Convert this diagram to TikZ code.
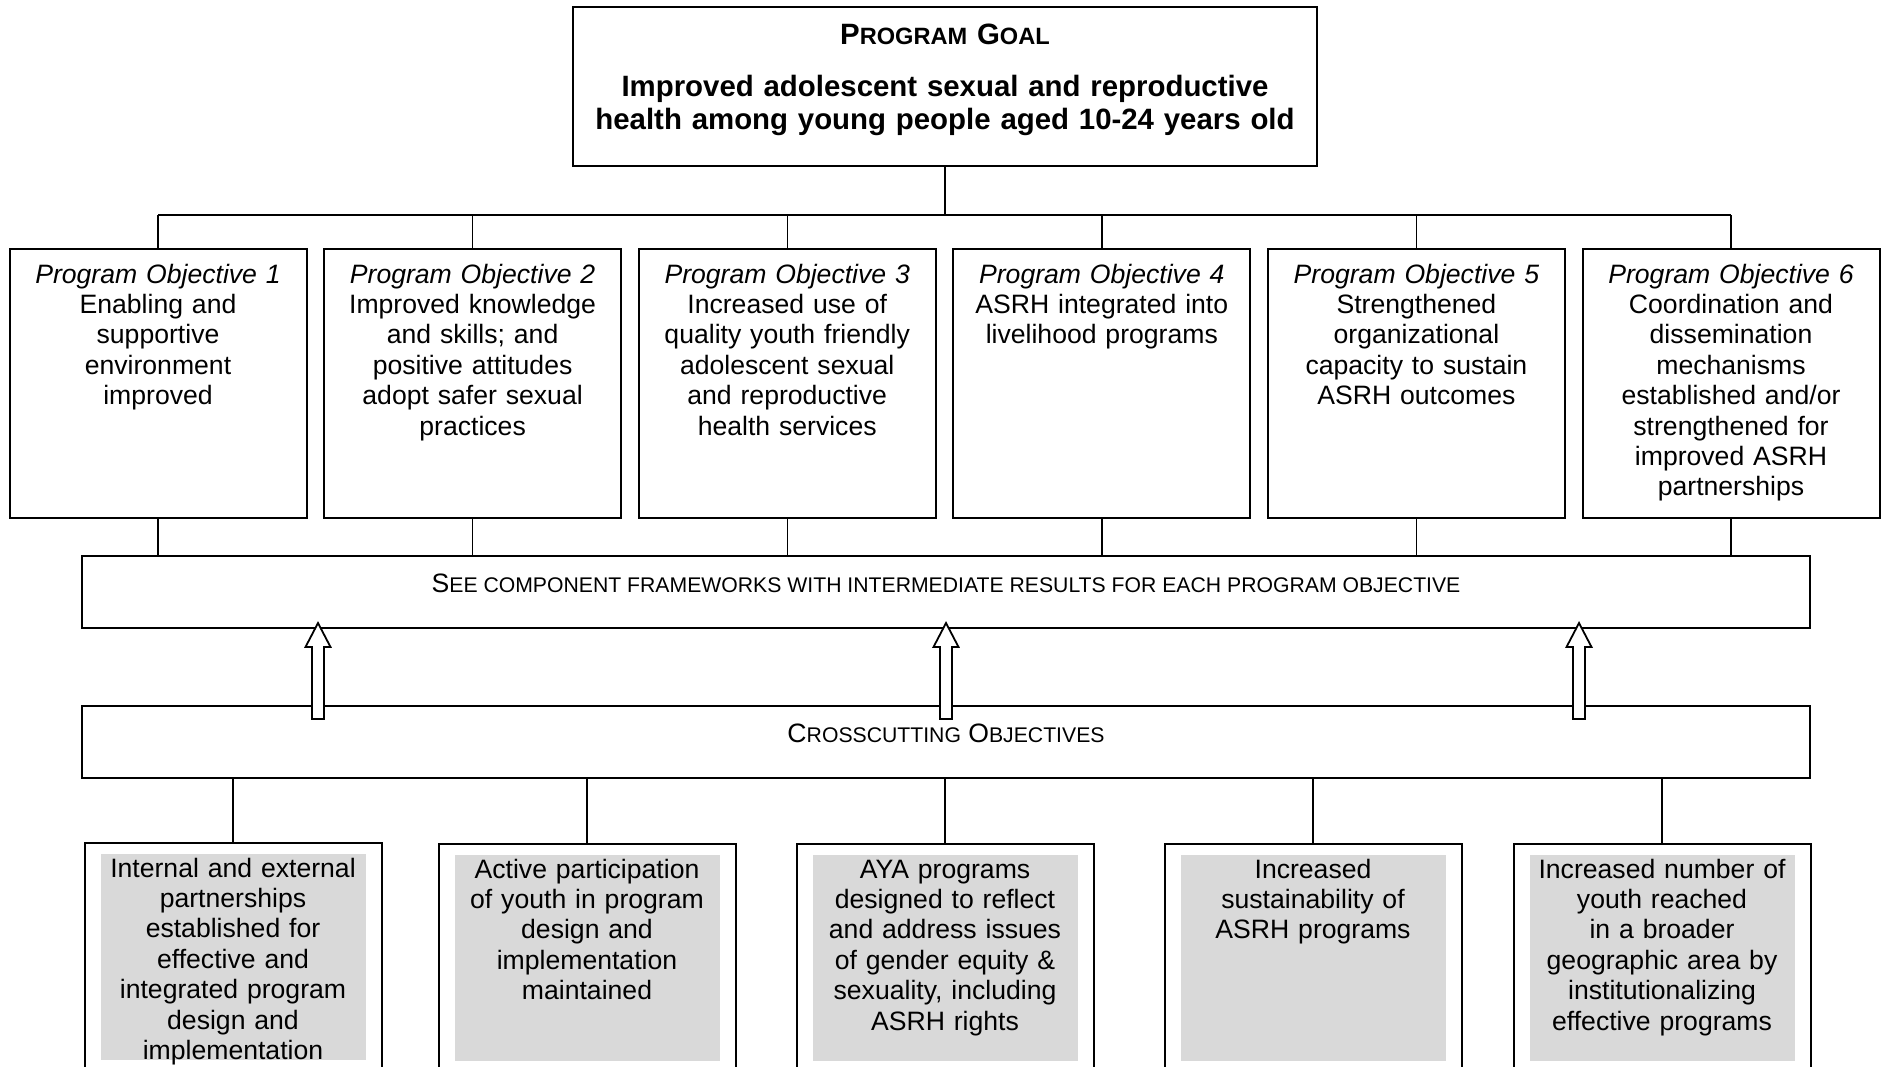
\documentclass[tikz,border=0pt]{standalone}
\usepackage{fontspec}
\setmainfont{Liberation Sans}
\usepackage{tikz}
\usetikzlibrary{positioning, calc}
\definecolor{ShadeGray}{RGB}{217, 217, 217}
\newcommand{\smc}[2][10.6]{{\fontsize{#1}{#1}\selectfont #2}}

\begin{document}
\begin{tikzpicture}[
    x=0.5pt, y=-0.5pt,
    font=\fontsize{13.3}{15.2}\selectfont,
    node distance=8.8pt,
    goalbox/.style={rectangle, draw, line width=1pt, anchor=north, align=center, text width=360pt, inner xsep=6pt, inner ysep=6pt, text height=12.5pt, text depth=55pt, font=\fontsize{14.7}{16.8}\selectfont\bfseries},
    objbox/.style={rectangle, draw, line width=1pt, anchor=north, outer sep=0pt, align=center, text width=136pt, inner xsep=6.25pt, inner ysep=4pt, text height=13pt, text depth=113.5pt},
    bandbox/.style={rectangle, draw, line width=1pt, outer sep=0pt, minimum width=864pt, inner sep=0pt, text height=18pt, text depth=18pt},
    resultbox/.style={rectangle, draw, fill=white, line width=1pt, anchor=north, align=center, text width=130pt, inner xsep=9.25pt, inner ysep=4pt, text height=13pt, text depth=93pt,
        path picture={\fill[ShadeGray] ($(path picture bounding box.north west)+(16,11)$) rectangle ($(path picture bounding box.south east)+(-16,-11)$);}},
    link/.style={line width=0.7pt},
    hollowarr/.style={draw, fill=white, line width=0.9pt, line join=miter}
]
    \useasboundingbox (0,0) rectangle (1883,1066);
    \clip (0,0) rectangle (1883,1066);

    % Goal
    \node[goalbox] (goal) at (945,6) {
        P\smc[11.8]{ROGRAM} G\smc[11.8]{OAL}\\[9.2pt]
        Improved adolescent sexual and reproductive\\
        health among young people aged 10-24 years old
    };

    % Program objectives
    \node[objbox] (o1) at (158,249) {
        \textit{Program Objective 1}\\
        Enabling and\\ supportive\\ environment\\ improved
    };
    \node[objbox, right=of o1] (o2) {
        \textit{Program Objective 2}\\
        Improved knowledge\\ and skills; and\\ positive attitudes\\ adopt safer sexual\\ practices
    };
    \node[objbox, right=of o2] (o3) {
        \textit{Program Objective 3}\\
        Increased use of\\ quality youth friendly\\ adolescent sexual\\ and reproductive\\ health services
    };
    \node[objbox, right=of o3] (o4) {
        \textit{Program Objective 4}\\
        ASRH integrated into\\ livelihood programs
    };
    \node[objbox, right=of o4] (o5) {
        \textit{Program Objective 5}\\
        Strengthened\\ organizational\\ capacity to sustain\\ ASRH outcomes
    };
    \node[objbox, right=of o5] (o6) {
        \textit{Program Objective 6}\\
        Coordination and\\ dissemination\\ mechanisms\\ established and/or\\ strengthened for\\ improved ASRH\\ partnerships
    };

    % Bands
    \node[bandbox] (see) at (946,592) {S\smc{EE COMPONENT FRAMEWORKS WITH INTERMEDIATE RESULTS FOR EACH PROGRAM OBJECTIVE}};
    \node[bandbox, below=39pt of see] (cross) {C\smc{ROSSCUTTING} O\smc{BJECTIVES}};

    % Crosscutting results
    \node[resultbox] (r1) at (233,842) {
        Internal and external\\ partnerships\\ established for\\ effective and\\ integrated program\\ design and\\ implementation
    };
    \node[resultbox] (r2) at (587,843) {
        Active participation\\ of youth in program\\ design and\\ implementation\\ maintained
    };
    \node[resultbox] (r3) at (945,843) {
        AYA programs\\ designed to reflect\\ and address issues\\ of gender equity \&\\ sexuality, including\\ ASRH rights
    };
    \node[resultbox] (r4) at (1313,843) {
        Increased\\ sustainability of\\ ASRH programs
    };
    \node[resultbox] (r5) at (1662,843) {
        Increased number of\\ youth reached\\ in a broader\\ geographic area by\\ institutionalizing\\ effective programs
    };

    % Connectors
    \coordinate (bus) at (945,215);
    \draw[link] (o1.north |- bus) -- (o6.north |- bus);
    \draw[link] (goal.south) -- (goal.south |- bus);
    \foreach \i in {1,...,6} {
        \draw[link] (o\i.north) -- (o\i.north |- bus);
        \draw[link] (o\i.south) -- (o\i.south |- see.north);
    }
    \foreach \i in {1,...,5}
        \draw[link] (r\i.north) -- (r\i.north |- cross.south);

    % Hollow arrows
    \foreach \dx in {-628,0,633} {
        \draw[hollowarr] ($(cross.north)+(\dx-6,13)$) -- ($(see.south)+(\dx-6,19)$) -- ++(-6.5,0)
            -- ($(see.south)+(\dx,-5)$) -- ($(see.south)+(\dx+12.5,19)$) -- ++(-6.5,0)
            -- ($(cross.north)+(\dx+6,13)$) -- cycle;
    }
\end{tikzpicture}
\end{document}
